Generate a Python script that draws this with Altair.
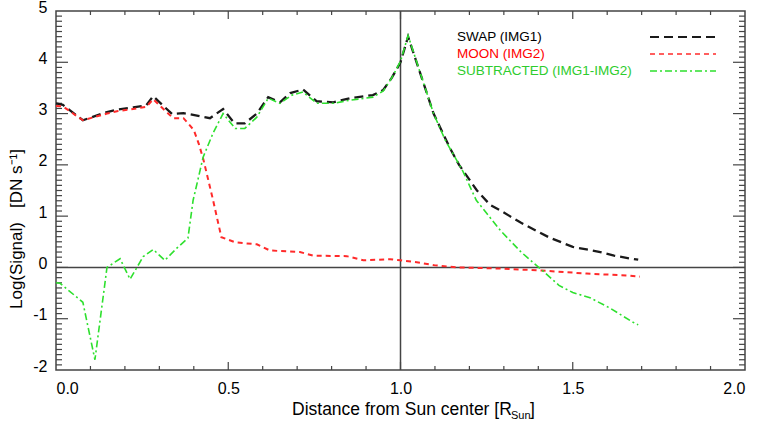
import altair as alt
import pandas as pd

# ---------------- data ----------------
SWAP_X = [0.00, 0.02, 0.078, 0.148, 0.18, 0.224, 0.262, 0.282, 0.337, 0.37, 0.447, 0.485,
          0.518, 0.548, 0.583, 0.616, 0.65, 0.68, 0.717, 0.757, 0.805, 0.853, 0.92, 0.95,
          0.975, 1.00, 1.022, 1.096, 1.144, 1.17, 1.222, 1.26, 1.29, 1.35, 1.43, 1.50, 1.54,
          1.58, 1.62, 1.67, 1.69]
SWAP_Y = [3.20, 3.17, 2.87, 3.03, 3.08, 3.12, 3.16, 3.34, 2.99, 3.01, 2.91, 3.09,
          2.81, 2.81, 3.00, 3.32, 3.22, 3.40, 3.47, 3.24, 3.22, 3.30, 3.36, 3.46,
          3.70, 4.00, 4.50, 3.00, 2.32, 2.00, 1.50, 1.22, 1.11, 0.87, 0.59, 0.40, 0.35,
          0.30, 0.23, 0.17, 0.15]

MOON_X = [0.00, 0.02, 0.078, 0.148, 0.18, 0.224, 0.262, 0.282, 0.34, 0.37, 0.40, 0.415,
          0.428, 0.456, 0.467, 0.48, 0.52, 0.583, 0.621, 0.708, 0.747, 0.844, 0.892, 0.97,
          1.00, 1.047, 1.10, 1.17, 1.28, 1.41, 1.54, 1.666, 1.695]
MOON_Y = [3.15, 3.14, 2.87, 3.00, 3.05, 3.09, 3.13, 3.28, 2.91, 2.91, 2.68, 2.40,
          2.10, 1.31, 0.98, 0.59, 0.49, 0.45, 0.33, 0.30, 0.23, 0.22, 0.14, 0.16,
          0.14, 0.10, 0.04, 0.00, -0.02, -0.06, -0.12, -0.16, -0.18]

SUB_X = [0.00, 0.012, 0.078, 0.113, 0.148, 0.186, 0.215, 0.253, 0.282, 0.316, 0.35, 0.383,
         0.398, 0.413, 0.427, 0.456, 0.485, 0.52, 0.548, 0.583, 0.616, 0.65, 0.685, 0.717,
         0.757, 0.805, 0.853, 0.92, 0.95, 0.975, 1.00, 1.022, 1.096, 1.13, 1.18, 1.22,
         1.29, 1.35, 1.41, 1.46, 1.50, 1.55, 1.61, 1.675, 1.69]
SUB_Y = [-0.30, -0.31, -0.68, -1.80, 0.00, 0.17, -0.23, 0.21, 0.35, 0.14, 0.37, 0.57,
         1.31, 1.74, 2.15, 2.62, 3.00, 2.71, 2.71, 2.93, 3.30, 3.20, 3.36, 3.42,
         3.20, 3.20, 3.26, 3.32, 3.44, 3.70, 4.02, 4.52, 3.00, 2.48, 1.89, 1.31,
         0.72, 0.30, -0.05, -0.35, -0.49, -0.59, -0.80, -1.07, -1.12]

SERIES = ["SWAP (IMG1)", "MOON (IMG2)", "SUBTRACTED (IMG1-IMG2)"]
X_TICKS = [0.0, 0.5, 1.0, 1.5, 2.0]
Y_TICKS = [-2, -1, 0, 1, 2, 3, 4, 5]
X_TICK_POS = [k / 10 for k in range(1, 20)]
Y_TICK_POS = [k / 10 for k in range(-19, 50)]

# ---------------- styles ----------------
W, H = 689, 359
XMIN, XMAX, YMIN, YMAX = 0.0, 2.0, -2.0, 5.0
FONT = "Liberation Sans"
COLORS = ["#1a1a1a", "#ff2a2a", "#2ee02e"]
TEXT_COLORS = ["#000000", "#ff0000", "#2ecc2e"]
DASHES = [[9, 5], [5, 4], [7, 3, 2, 3]]
WIDTHS = [2.3, 2.0, 1.6]
FRAME = "#444444"

xs = alt.Scale(domain=[XMIN, XMAX], nice=False, zero=False)
ys = alt.Scale(domain=[YMIN, YMAX], nice=False, zero=False)
AX_X = alt.Axis(values=X_TICKS, format=".1f", grid=False, ticks=False, domain=False,
                labelFontSize=16, labelFont=FONT, labelColor="#000",
                labelPadding=10, title=None)
AX_Y = alt.Axis(values=Y_TICKS, grid=False, ticks=False, domain=False,
                labelExpr="datum.value < 0 ? '-' + abs(datum.value) : '' + datum.value",
                labelFontSize=16, labelFont=FONT, labelColor="#000",
                labelPadding=9, labelOffset=-4, title=None)

def X(f):
    return alt.X(f, type="quantitative", scale=xs, axis=AX_X)

def Y(f):
    return alt.Y(f, type="quantitative", scale=ys, axis=AX_Y)

# tick lengths in pixels converted to data units
px_x = (XMAX - XMIN) / W
px_y = (YMAX - YMIN) / H
rows = []
for v in X_TICK_POS:
    L = 8 if round(v * 10) % 5 == 0 else 4
    rows.append({"x": v, "x2": v, "y": YMIN, "y2": YMIN + L * px_y})
    rows.append({"x": v, "x2": v, "y": YMAX, "y2": YMAX - L * px_y})
for v in Y_TICK_POS:
    L = 12 if round(v * 10) % 10 == 0 else 6
    rows.append({"x": XMIN, "x2": XMIN + L * px_x, "y": v, "y2": v})
    rows.append({"x": XMAX, "x2": XMAX - L * px_x, "y": v, "y2": v})
ticks_df = pd.DataFrame(rows)

layers = []

# reference lines
layers.append(alt.Chart(pd.DataFrame({"v": [0.0]})).mark_rule(color="#444", strokeWidth=1.5).encode(
    y=Y("v"), x=alt.value(0), x2=alt.value(W)))
layers.append(alt.Chart(pd.DataFrame({"v": [1.0]})).mark_rule(color="#444", strokeWidth=1.5).encode(
    x=X("v"), y=alt.value(0), y2=alt.value(H)))

# inward ticks
layers.append(alt.Chart(ticks_df).mark_rule(color=FRAME, strokeWidth=1.2).encode(
    x=X("x"), x2="x2:Q", y=Y("y"), y2="y2:Q"))

# data lines
data_sets = [(SWAP_X, SWAP_Y), (MOON_X, MOON_Y), (SUB_X, SUB_Y)]
for i, (xv, yv) in enumerate(data_sets):
    df = pd.DataFrame({"x": xv, "y": yv, "o": list(range(len(xv)))})
    layers.append(
        alt.Chart(df).mark_line(color=COLORS[i], strokeDash=DASHES[i], strokeWidth=WIDTHS[i]).encode(
            x=X("x"), y=Y("y"), order="o:Q"))

# legend
LX, LY0, LDY = 401, 26, 17
for i, name in enumerate(SERIES):
    layers.append(alt.Chart(pd.DataFrame({"t": [name]})).mark_text(
        align="left", baseline="middle", font=FONT, fontSize=13.5, color=TEXT_COLORS[i]).encode(
        text="t:N", x=alt.value(LX), y=alt.value(LY0 + LDY * i)))
    layers.append(alt.Chart(pd.DataFrame({"t": [name]})).mark_rule(
        color=COLORS[i], strokeDash=DASHES[i], strokeWidth=WIDTHS[i] * 0.8).encode(
        x=alt.value(594), x2=alt.value(660), y=alt.value(LY0 + LDY * i)))

# axis titles
NB = "\u00a0"
layers.append(alt.Chart(pd.DataFrame({"t": ["Distance from Sun center [R"]})).mark_text(
    align="left", baseline="alphabetic", font=FONT, fontSize=17.5, color="#000").encode(
    text="t:N", x=alt.value(236), y=alt.value(404)))
layers.append(alt.Chart(pd.DataFrame({"t": ["Sun"]})).mark_text(
    align="left", baseline="alphabetic", font=FONT, fontSize=11, color="#000").encode(
    text="t:N", x=alt.value(455), y=alt.value(408)))
layers.append(alt.Chart(pd.DataFrame({"t": ["]"]})).mark_text(
    align="left", baseline="alphabetic", font=FONT, fontSize=17.5, color="#000").encode(
    text="t:N", x=alt.value(474), y=alt.value(404)))
layers.append(alt.Chart(pd.DataFrame({"t": ["Log(Signal)" + NB * 3 + "[DN s\u207b\u00b9]"]})).mark_text(
    align="center", baseline="middle", font=FONT, fontSize=17, color="#000", angle=270).encode(
    text="t:N", x=alt.value(-39), y=alt.value(218)))

chart = alt.layer(*layers).properties(
    width=W, height=H,
    autosize=alt.AutoSizeParams(type="none"),
    padding={"left": 56, "top": 11, "right": 12, "bottom": 53},
    background="white",
).configure_view(stroke=FRAME, strokeWidth=1.5)

chart.save("out.html", embed_options={"renderer": "svg", "actions": False})
